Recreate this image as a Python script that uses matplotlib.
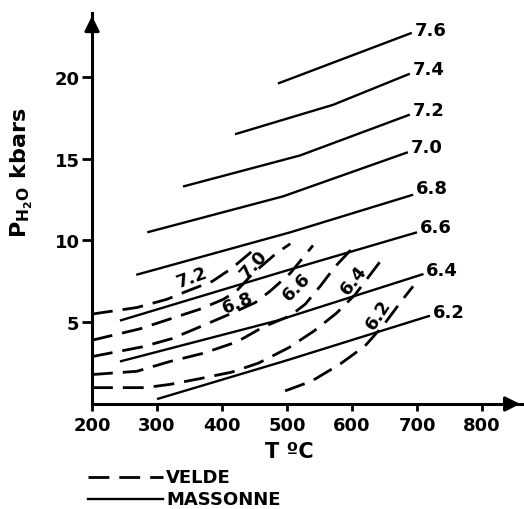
import matplotlib
matplotlib.use("Agg")
import matplotlib.pyplot as plt
from matplotlib.lines import Line2D

plt.rcParams['font.family'] = 'DejaVu Sans'
plt.rcParams['font.weight'] = 'bold'
plt.rcParams['mathtext.default'] = 'bf'

# MASSONNE isopleths (solid), T in degC, P in kbar
massonne_labels = ['6.2', '6.4', '6.6', '6.8', '7.0', '7.2', '7.4', '7.6']
massonne_T = [[300, 494, 720], [243, 485, 710], [243, 494, 700], [268, 505, 694],
              [285, 494, 686], [340, 520, 689], [420, 571, 689], [486, 692]]
massonne_P = [[0.3, 2.6, 5.4], [2.6, 5.1, 7.95], [5.1, 8.1, 10.5], [7.9, 10.5, 12.8],
              [10.5, 12.7, 15.4], [13.3, 15.2, 17.7], [16.5, 18.3, 20.2], [19.6, 22.7]]
massonne_label_T = [724, 714, 704, 698, 690, 693, 693, 696]
massonne_label_P = [5.6, 8.2, 10.8, 13.2, 15.7, 18.0, 20.5, 22.9]

# VELDE isopleths (dashed)
velde_labels = ['7.2', '7.0', '6.8', '6.6', '6.4', '6.2']
velde_T = [[200, 269, 315, 346, 385, 415, 445],
           [200, 274, 320, 366, 402, 422, 448, 483, 505],
           [200, 278, 323, 371, 412, 451, 474, 505, 540],
           [200, 269, 320, 371, 423, 463, 505, 528, 551, 574, 600],
           [200, 282, 320, 366, 415, 456, 503, 541, 576, 605, 645],
           [497, 538, 582, 620, 648, 678, 694]]
velde_P = [[5.5, 5.9, 6.4, 6.9, 7.5, 8.3, 9.3],
           [3.9, 4.6, 5.2, 5.8, 6.4, 6.9, 8.0, 9.2, 9.8],
           [2.9, 3.5, 4.0, 4.8, 5.5, 6.2, 6.9, 8.0, 9.7],
           [1.8, 2.0, 2.6, 3.1, 3.8, 4.7, 5.4, 6.1, 7.2, 8.4, 9.5],
           [1.0, 1.0, 1.2, 1.55, 1.95, 2.5, 3.45, 4.45, 5.55, 6.7, 8.8],
           [0.8, 1.4, 2.45, 3.55, 4.8, 6.4, 7.2]]
velde_label_T = [354, 448, 425, 515, 602, 640]
velde_label_P = [7.8, 8.6, 6.2, 7.2, 7.6, 5.5]
velde_label_rot = [20, 48, 22, 45, 52, 57]

xticks = [200, 300, 400, 500, 600, 700, 800]
yticks = [5, 10, 15, 20]

fig = plt.figure(figsize=(5.24, 5.10), dpi=100)
ax = fig.add_axes([0.1756, 0.2059, 0.8224, 0.7662])

for T, P in zip(massonne_T, massonne_P):
    ax.plot(T, P, color='black', lw=1.7, solid_capstyle='butt')
for lab, x, y in zip(massonne_labels, massonne_label_T, massonne_label_P):
    ax.text(x, y, lab, ha='left', va='center', fontsize=13, fontweight='bold')

for T, P in zip(velde_T, velde_P):
    ax.plot(T, P, color='black', lw=2.0, dashes=(7.5, 3.6), dash_capstyle='butt')
for lab, x, y, r in zip(velde_labels, velde_label_T, velde_label_P, velde_label_rot):
    ax.text(x, y, lab, ha='center', va='center', rotation=r,
            rotation_mode='anchor', fontsize=13, fontweight='bold')

ax.set_xlim(200, 863)
ax.set_ylim(0, 23.9)
ax.spines['top'].set_visible(False)
ax.spines['right'].set_visible(False)
ax.spines['left'].set_linewidth(2.2)
ax.spines['bottom'].set_linewidth(2.2)
ax.set_xticks(xticks)
ax.set_yticks(yticks)
ax.tick_params(axis='x', direction='out', length=5, width=2, pad=4, labelsize=13)
ax.tick_params(axis='y', direction='out', length=7, width=2, pad=2, labelsize=13)
for t in ax.get_xticklabels() + ax.get_yticklabels():
    t.set_fontweight('bold')

# axis arrows
ax.annotate('', xy=(0, 1.0), xytext=(0, 0.95), xycoords='axes fraction',
            arrowprops=dict(arrowstyle='-|>', color='black', lw=2.2, mutation_scale=22))
ax.annotate('', xy=(1.0, 0), xytext=(0.95, 0), xycoords='axes fraction',
            arrowprops=dict(arrowstyle='-|>', color='black', lw=2.2, mutation_scale=22))

fig.text(0.553, 0.114, 'T ºC', ha='center', va='center', fontsize=15, fontweight='bold')
fig.text(0.042, 0.661, r'P$_{H_2O}$ kbars', ha='center', va='center',
         rotation=90, fontsize=16, fontweight='bold')

# legend drawn below the axes
fig.add_artist(Line2D([88 / 524, 163 / 524], [1 - 478 / 510, 1 - 478 / 510],
                      color='black', lw=2.0, dashes=(7.5, 3.6)))
fig.add_artist(Line2D([88 / 524, 163 / 524], [1 - 500 / 510, 1 - 500 / 510],
                      color='black', lw=1.7))
fig.text(166 / 524, 1 - 478 / 510, 'VELDE', ha='left', va='center', fontsize=13, fontweight='bold')
fig.text(166 / 524, 1 - 500 / 510, 'MASSONNE', ha='left', va='center', fontsize=13, fontweight='bold')

fig.savefig('out.png', dpi=100)
